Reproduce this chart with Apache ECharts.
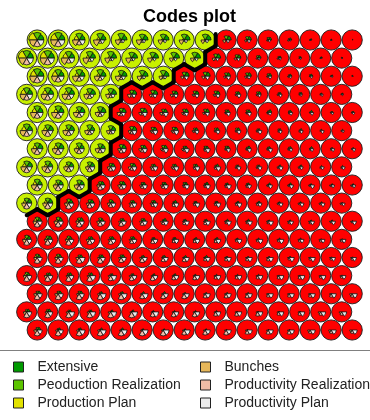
<!DOCTYPE html>
<html>
<head>
<meta charset="utf-8">
<script src="https://cdn.jsdelivr.net/npm/echarts@6/dist/echarts.min.js"></script>
<style>
html, body { margin: 0; padding: 0; background: #fff; }
#chart { width: 370px; height: 420px; }
</style>
</head>
<body>
<div id="chart"></div>
<script>
// SOM codebook vectors on a 16 x 17 hexagonal grid, scaled 0..1 per variable.
// Each array lists rows from the top row of the map down, 16 units per row.
const variableNames = ['Extensive', 'Peoduction Realization', 'Production Plan',
                       'Bunches', 'Productivity Realization', 'Productivity Plan'];
const variableColors = ['#009A00', '#5CC400', '#E2E200', '#E6B75A', '#F0BCA6', '#ECECEC'];

const extensive = [
  [0.8,0.8,0.7,0.7,0.7,0.7,0.7,0.7,0.7,0.6,0.5,0.4,0.3,0.2,0.1,0.1],
  [0.8,0.8,0.7,0.7,0.7,0.7,0.7,0.7,0.7,0.6,0.5,0.4,0.3,0.2,0.2,0.1],
  [0.8,0.7,0.7,0.7,0.7,0.7,0.7,0.6,0.6,0.5,0.5,0.4,0.3,0.3,0.2,0.1],
  [0.7,0.7,0.7,0.7,0.7,0.6,0.6,0.5,0.5,0.5,0.4,0.4,0.3,0.3,0.2,0.2],
  [0.7,0.7,0.7,0.7,0.6,0.6,0.5,0.5,0.5,0.4,0.4,0.4,0.3,0.3,0.2,0.2],
  [0.7,0.7,0.7,0.6,0.6,0.6,0.5,0.5,0.4,0.4,0.4,0.3,0.3,0.3,0.2,0.2],
  [0.7,0.7,0.6,0.6,0.6,0.5,0.5,0.4,0.4,0.4,0.4,0.3,0.3,0.3,0.2,0.2],
  [0.7,0.6,0.6,0.6,0.5,0.5,0.4,0.4,0.4,0.4,0.3,0.3,0.3,0.3,0.2,0.2],
  [0.6,0.6,0.6,0.5,0.5,0.4,0.4,0.4,0.4,0.3,0.3,0.3,0.3,0.2,0.2,0.2],
  [0.6,0.6,0.5,0.5,0.4,0.4,0.4,0.4,0.3,0.3,0.3,0.3,0.2,0.2,0.2,0.1],
  [0.5,0.5,0.5,0.4,0.4,0.4,0.4,0.3,0.3,0.3,0.3,0.2,0.2,0.2,0.2,0.1],
  [0.5,0.5,0.4,0.4,0.4,0.4,0.3,0.3,0.3,0.3,0.2,0.2,0.2,0.2,0.1,0.1],
  [0.4,0.4,0.4,0.4,0.4,0.3,0.3,0.3,0.3,0.2,0.2,0.2,0.2,0.1,0.1,0.1],
  [0.4,0.4,0.4,0.4,0.3,0.3,0.3,0.3,0.2,0.2,0.2,0.2,0.1,0.1,0.1,0.1],
  [0.4,0.4,0.4,0.3,0.3,0.3,0.3,0.2,0.2,0.2,0.2,0.1,0.1,0.1,0.1,0.0],
  [0.4,0.4,0.3,0.3,0.3,0.3,0.2,0.2,0.2,0.2,0.1,0.1,0.1,0.1,0.0,0.0],
  [0.4,0.3,0.3,0.3,0.3,0.2,0.2,0.2,0.2,0.1,0.1,0.1,0.1,0.0,0.0,0.0]
];

const productionRealization = [
  [0.9,0.9,0.8,0.8,0.8,0.7,0.7,0.7,0.7,0.5,0.4,0.3,0.2,0.1,0.1,0.0],
  [0.9,0.9,0.8,0.8,0.8,0.7,0.7,0.7,0.7,0.5,0.4,0.3,0.2,0.2,0.1,0.1],
  [0.9,0.8,0.8,0.8,0.7,0.7,0.7,0.5,0.5,0.4,0.4,0.3,0.2,0.2,0.1,0.1],
  [0.8,0.8,0.8,0.7,0.7,0.5,0.5,0.4,0.4,0.4,0.3,0.3,0.2,0.2,0.1,0.1],
  [0.8,0.8,0.7,0.7,0.5,0.5,0.4,0.4,0.4,0.3,0.3,0.2,0.2,0.1,0.1,0.1],
  [0.8,0.7,0.7,0.7,0.6,0.5,0.4,0.4,0.3,0.3,0.3,0.2,0.2,0.1,0.1,0.0],
  [0.7,0.7,0.7,0.6,0.5,0.4,0.4,0.3,0.3,0.3,0.2,0.2,0.2,0.1,0.1,0.0],
  [0.7,0.7,0.6,0.6,0.4,0.4,0.3,0.3,0.3,0.2,0.2,0.2,0.1,0.1,0.0,0.0],
  [0.7,0.6,0.6,0.4,0.4,0.3,0.3,0.3,0.2,0.2,0.2,0.1,0.1,0.1,0.0,0.0],
  [0.6,0.6,0.5,0.4,0.4,0.3,0.3,0.2,0.2,0.2,0.1,0.1,0.1,0.0,0.0,0.0],
  [0.5,0.5,0.4,0.4,0.3,0.3,0.2,0.2,0.2,0.1,0.1,0.1,0.0,0.0,0.0,0.0],
  [0.5,0.4,0.4,0.3,0.3,0.3,0.2,0.2,0.1,0.1,0.1,0.0,0.0,0.0,0.0,0.0],
  [0.4,0.4,0.3,0.3,0.3,0.2,0.2,0.1,0.1,0.1,0.0,0.0,0.0,0.0,0.0,0.0],
  [0.4,0.3,0.3,0.3,0.2,0.2,0.1,0.1,0.1,0.0,0.0,0.0,0.0,0.0,0.0,0.0],
  [0.3,0.3,0.3,0.2,0.2,0.1,0.1,0.1,0.0,0.0,0.0,0.0,0.0,0.0,0.0,0.0],
  [0.3,0.3,0.2,0.2,0.1,0.1,0.1,0.0,0.0,0.0,0.0,0.0,0.0,0.0,0.0,0.0],
  [0.3,0.2,0.2,0.1,0.1,0.1,0.0,0.0,0.0,0.0,0.0,0.0,0.0,0.0,0.0,0.0]
];

const productionPlan = [
  [1.0,0.9,0.6,0.4,0.3,0.2,0.2,0.2,0.1,0.1,0.1,0.1,0.0,0.0,0.0,0.0],
  [1.0,0.9,0.7,0.4,0.3,0.2,0.2,0.1,0.1,0.1,0.1,0.0,0.0,0.0,0.0,0.0],
  [0.8,0.7,0.5,0.4,0.3,0.2,0.2,0.1,0.1,0.1,0.1,0.0,0.0,0.0,0.0,0.0],
  [0.7,0.6,0.5,0.4,0.3,0.2,0.1,0.1,0.1,0.1,0.0,0.0,0.0,0.0,0.0,0.0],
  [0.6,0.5,0.4,0.3,0.2,0.2,0.1,0.1,0.1,0.0,0.0,0.0,0.0,0.0,0.0,0.0],
  [0.6,0.5,0.4,0.3,0.2,0.2,0.1,0.1,0.1,0.0,0.0,0.0,0.0,0.0,0.0,0.0],
  [0.5,0.5,0.4,0.3,0.2,0.1,0.1,0.1,0.0,0.0,0.0,0.0,0.0,0.0,0.0,0.0],
  [0.5,0.4,0.4,0.3,0.2,0.1,0.1,0.1,0.0,0.0,0.0,0.0,0.0,0.0,0.0,0.0],
  [0.5,0.4,0.3,0.3,0.2,0.1,0.1,0.0,0.0,0.0,0.0,0.0,0.0,0.0,0.0,0.0],
  [0.4,0.4,0.3,0.2,0.2,0.1,0.1,0.0,0.0,0.0,0.0,0.0,0.0,0.0,0.0,0.0],
  [0.4,0.3,0.3,0.2,0.1,0.1,0.0,0.0,0.0,0.0,0.0,0.0,0.0,0.0,0.0,0.0],
  [0.3,0.3,0.3,0.2,0.1,0.1,0.0,0.0,0.0,0.0,0.0,0.0,0.0,0.0,0.0,0.0],
  [0.3,0.3,0.2,0.2,0.1,0.0,0.0,0.0,0.0,0.0,0.0,0.0,0.0,0.0,0.0,0.0],
  [0.3,0.2,0.2,0.1,0.1,0.0,0.0,0.0,0.0,0.0,0.0,0.0,0.0,0.0,0.0,0.0],
  [0.2,0.2,0.2,0.1,0.0,0.0,0.0,0.0,0.0,0.0,0.0,0.0,0.0,0.0,0.0,0.0],
  [0.2,0.2,0.1,0.1,0.0,0.0,0.0,0.0,0.0,0.0,0.0,0.0,0.0,0.0,0.0,0.0],
  [0.2,0.1,0.1,0.1,0.0,0.0,0.0,0.0,0.0,0.0,0.0,0.0,0.0,0.0,0.0,0.0]
];

const bunches = [
  [0.9,0.9,0.8,0.8,0.7,0.7,0.6,0.6,0.5,0.4,0.3,0.2,0.2,0.1,0.1,0.0],
  [0.9,0.9,0.9,0.8,0.7,0.7,0.6,0.5,0.5,0.4,0.3,0.2,0.2,0.1,0.1,0.0],
  [0.9,0.8,0.8,0.7,0.7,0.6,0.5,0.4,0.4,0.3,0.3,0.2,0.2,0.1,0.1,0.0],
  [0.8,0.8,0.8,0.7,0.6,0.5,0.4,0.4,0.3,0.3,0.2,0.2,0.2,0.1,0.1,0.1],
  [0.8,0.8,0.7,0.6,0.5,0.4,0.4,0.3,0.3,0.2,0.2,0.2,0.1,0.1,0.1,0.1],
  [0.8,0.7,0.7,0.6,0.5,0.4,0.3,0.3,0.3,0.2,0.2,0.2,0.1,0.1,0.1,0.1],
  [0.7,0.7,0.6,0.6,0.4,0.4,0.3,0.3,0.2,0.2,0.2,0.2,0.2,0.1,0.1,0.1],
  [0.7,0.7,0.6,0.5,0.4,0.4,0.3,0.3,0.2,0.2,0.2,0.2,0.2,0.2,0.1,0.1],
  [0.7,0.6,0.6,0.4,0.4,0.3,0.3,0.2,0.2,0.2,0.2,0.2,0.2,0.2,0.2,0.2],
  [0.6,0.6,0.5,0.4,0.4,0.3,0.3,0.2,0.2,0.2,0.2,0.2,0.2,0.2,0.2,0.2],
  [0.5,0.5,0.4,0.4,0.3,0.3,0.3,0.2,0.2,0.2,0.2,0.2,0.2,0.2,0.2,0.2],
  [0.5,0.4,0.4,0.4,0.3,0.3,0.2,0.2,0.2,0.2,0.2,0.2,0.2,0.2,0.2,0.2],
  [0.4,0.4,0.4,0.3,0.3,0.3,0.2,0.2,0.2,0.2,0.2,0.2,0.2,0.2,0.2,0.2],
  [0.4,0.4,0.3,0.3,0.3,0.3,0.2,0.2,0.2,0.2,0.2,0.2,0.2,0.2,0.2,0.2],
  [0.4,0.4,0.3,0.3,0.3,0.2,0.2,0.2,0.2,0.2,0.2,0.2,0.2,0.2,0.2,0.3],
  [0.4,0.3,0.3,0.3,0.3,0.2,0.2,0.2,0.2,0.2,0.2,0.2,0.2,0.2,0.3,0.3],
  [0.4,0.3,0.3,0.3,0.2,0.2,0.2,0.2,0.2,0.2,0.2,0.2,0.2,0.3,0.3,0.3]
];

const productivityRealization = [
  [0.8,0.8,0.6,0.4,0.3,0.3,0.2,0.2,0.2,0.1,0.1,0.1,0.0,0.0,0.0,0.0],
  [0.8,0.8,0.6,0.4,0.3,0.3,0.2,0.2,0.2,0.2,0.1,0.1,0.1,0.0,0.0,0.0],
  [0.8,0.7,0.6,0.5,0.4,0.3,0.3,0.2,0.2,0.2,0.2,0.1,0.1,0.1,0.0,0.0],
  [0.7,0.7,0.6,0.5,0.4,0.3,0.3,0.2,0.2,0.2,0.2,0.2,0.1,0.1,0.1,0.0],
  [0.7,0.7,0.6,0.5,0.4,0.3,0.3,0.3,0.2,0.2,0.2,0.2,0.2,0.1,0.1,0.1],
  [0.7,0.7,0.6,0.5,0.4,0.4,0.3,0.3,0.2,0.2,0.2,0.2,0.2,0.2,0.1,0.1],
  [0.7,0.7,0.6,0.5,0.5,0.4,0.3,0.3,0.3,0.2,0.2,0.2,0.2,0.2,0.2,0.1],
  [0.7,0.7,0.6,0.6,0.5,0.4,0.4,0.3,0.3,0.3,0.2,0.2,0.2,0.2,0.2,0.2],
  [0.7,0.7,0.6,0.6,0.5,0.4,0.4,0.3,0.3,0.3,0.3,0.2,0.2,0.2,0.2,0.2],
  [0.7,0.7,0.7,0.6,0.5,0.5,0.4,0.4,0.3,0.3,0.3,0.3,0.2,0.2,0.2,0.2],
  [0.7,0.7,0.7,0.6,0.6,0.5,0.4,0.4,0.4,0.3,0.3,0.3,0.3,0.3,0.2,0.2],
  [0.7,0.7,0.7,0.6,0.6,0.5,0.5,0.4,0.4,0.4,0.3,0.3,0.3,0.3,0.3,0.3],
  [0.7,0.7,0.7,0.7,0.6,0.6,0.5,0.5,0.4,0.4,0.4,0.4,0.3,0.3,0.3,0.3],
  [0.7,0.7,0.7,0.7,0.6,0.6,0.6,0.5,0.5,0.4,0.4,0.4,0.4,0.4,0.3,0.3],
  [0.7,0.7,0.7,0.7,0.7,0.6,0.6,0.6,0.5,0.5,0.5,0.4,0.4,0.4,0.4,0.4],
  [0.7,0.7,0.7,0.7,0.7,0.7,0.6,0.6,0.6,0.5,0.5,0.5,0.4,0.4,0.4,0.4],
  [0.7,0.7,0.7,0.7,0.7,0.7,0.7,0.6,0.6,0.6,0.5,0.5,0.5,0.4,0.4,0.4]
];

const productivityPlan = [
  [0.8,0.8,0.7,0.5,0.4,0.4,0.4,0.4,0.4,0.4,0.4,0.3,0.2,0.1,0.1,0.0],
  [0.8,0.8,0.7,0.5,0.4,0.4,0.4,0.4,0.4,0.4,0.4,0.3,0.3,0.2,0.1,0.1],
  [0.8,0.7,0.6,0.5,0.5,0.4,0.4,0.5,0.5,0.5,0.4,0.4,0.3,0.3,0.2,0.1],
  [0.7,0.7,0.6,0.5,0.5,0.5,0.5,0.5,0.5,0.5,0.5,0.4,0.4,0.3,0.3,0.2],
  [0.7,0.6,0.6,0.5,0.5,0.6,0.6,0.5,0.5,0.5,0.5,0.4,0.4,0.4,0.3,0.3],
  [0.7,0.6,0.6,0.5,0.5,0.6,0.6,0.6,0.5,0.5,0.5,0.5,0.4,0.4,0.4,0.3],
  [0.6,0.6,0.6,0.6,0.6,0.6,0.6,0.6,0.6,0.5,0.5,0.5,0.4,0.4,0.4,0.4],
  [0.6,0.6,0.6,0.6,0.6,0.6,0.6,0.6,0.6,0.6,0.5,0.5,0.5,0.4,0.4,0.4],
  [0.6,0.6,0.6,0.6,0.6,0.6,0.6,0.6,0.6,0.6,0.5,0.5,0.5,0.5,0.4,0.4],
  [0.6,0.6,0.6,0.6,0.6,0.6,0.6,0.6,0.6,0.6,0.6,0.5,0.5,0.5,0.5,0.4],
  [0.6,0.6,0.6,0.6,0.6,0.6,0.6,0.6,0.6,0.6,0.6,0.6,0.5,0.5,0.5,0.5],
  [0.6,0.6,0.6,0.6,0.6,0.6,0.6,0.6,0.6,0.6,0.6,0.6,0.6,0.5,0.5,0.5],
  [0.6,0.6,0.7,0.6,0.6,0.6,0.6,0.6,0.6,0.6,0.6,0.6,0.6,0.6,0.5,0.5],
  [0.6,0.6,0.6,0.7,0.7,0.6,0.6,0.6,0.6,0.6,0.6,0.6,0.6,0.6,0.6,0.5],
  [0.6,0.6,0.6,0.7,0.7,0.7,0.6,0.6,0.6,0.6,0.6,0.6,0.6,0.6,0.6,0.6],
  [0.6,0.6,0.7,0.7,0.7,0.7,0.7,0.6,0.6,0.6,0.6,0.6,0.6,0.6,0.6,0.6],
  [0.6,0.6,0.7,0.7,0.7,0.7,0.7,0.7,0.6,0.6,0.6,0.6,0.6,0.6,0.6,0.6]
];

// Units of cluster 1 counted from the left end of each row (top row first); the rest are cluster 2.
const cluster1UnitsPerRow = [9, 9, 7, 5, 4, 5, 4, 4, 3, 2, 0, 0, 0, 0, 0, 0, 0];
const clusterColors = ['#C8F000', '#FF0000'];

const variables = [extensive, productionRealization, productionPlan,
                   bunches, productivityRealization, productivityPlan];

const NROW = extensive.length;
const NCOL = extensive[0].length;

// Hexagonal layout: grid x in unit steps, even rows from the top shifted half a unit right.
const units = [];
for (let r = 0; r < NROW; r++) {
  for (let k = 0; k < NCOL; k++) {
    const x = k + 1 + (r % 2 === 0 ? 0.5 : 0);
    const y = NROW - 1 - r;
    const cl = k < cluster1UnitsPerRow[r] ? 0 : 1;
    units.push({ r, k, x, y, cl });
  }
}

// Pairs of neighbouring units that belong to different clusters.
const borderPairs = [];
for (let i = 0; i < units.length; i++) {
  for (let j = i + 1; j < units.length; j++) {
    const a = units[i], b = units[j];
    if (a.cl === b.cl) continue;
    const dy = Math.abs(a.y - b.y), dx = Math.abs(a.x - b.x);
    if ((dy === 0 && dx === 1) || (dy === 1 && dx === 0.5)) {
      borderPairs.push([a.x, a.y, b.x, b.y]);
    }
  }
}

function unitPx(api) {
  const p0 = api.coord([0, 0]);
  const p1 = api.coord([1, 0]);
  return p1[0] - p0[0];
}

const FONT = '"Liberation Sans", Arial, sans-serif';
const chart = echarts.init(document.getElementById('chart'), null, { renderer: 'canvas' });

const series = [];

// Background circles coloured by cluster
series.push({
  type: 'custom',
  name: 'units',
  coordinateSystem: 'cartesian2d',
  silent: true,
  data: units.map(u => [u.x, u.y, u.cl]),
  renderItem: (params, api) => {
    const c = api.coord([api.value(0), api.value(1)]);
    const s = unitPx(api);
    return {
      type: 'circle',
      shape: { cx: c[0], cy: c[1], r: 0.5 * s - 0.4 },
      style: { fill: clusterColors[api.value(2)], stroke: '#1c1c1c', lineWidth: 0.9 }
    };
  },
  z: 1
});

// One segment (wedge) per variable, radius proportional to the scaled code value
variables.forEach((vals, vi) => {
  const data = [];
  units.forEach(u => data.push([u.x, u.y, vals[u.r][u.k]]));
  series.push({
    type: 'custom',
    name: variableNames[vi],
    coordinateSystem: 'cartesian2d',
    itemStyle: { color: variableColors[vi] },
    data,
    renderItem: (params, api) => {
      const v = api.value(2);
      if (!(v > 0)) return null;
      const c = api.coord([api.value(0), api.value(1)]);
      const s = unitPx(api);
      const step = Math.PI / 3;
      return {
        type: 'sector',
        shape: {
          cx: c[0], cy: c[1], r0: 0, r: 0.4 * s * v,
          startAngle: -(vi + 1) * step, endAngle: -vi * step, clockwise: true
        },
        style: { fill: variableColors[vi], stroke: '#111', lineWidth: 0.8 }
      };
    },
    z: 2
  });
});

// Cluster boundaries along the shared hexagon edges
series.push({
  type: 'custom',
  name: 'boundaries',
  coordinateSystem: 'cartesian2d',
  silent: true,
  data: borderPairs,
  renderItem: (params, api) => {
    const a = api.coord([api.value(0), api.value(1)]);
    const b = api.coord([api.value(2), api.value(3)]);
    const mx = (a[0] + b[0]) / 2, my = (a[1] + b[1]) / 2;
    const dx = b[0] - a[0], dy = b[1] - a[1];
    const d = Math.sqrt(dx * dx + dy * dy);
    const half = d / (2 * Math.sqrt(3));
    const ux = -dy / d, uy = dx / d;
    return {
      type: 'line',
      shape: { x1: mx - ux * half, y1: my - uy * half, x2: mx + ux * half, y2: my + uy * half },
      style: { stroke: '#000', lineWidth: 4, lineCap: 'round' }
    };
  },
  z: 3
});

const legendCommon = {
  orient: 'vertical',
  icon: 'rect',
  itemWidth: 10,
  itemHeight: 10,
  itemGap: 4,
  selectedMode: false,
  itemStyle: { borderColor: '#222', borderWidth: 1 },
  textStyle: { fontSize: 14, color: '#222', fontFamily: FONT, lineHeight: 14, padding: [0, 0, 0, 9] }
};

chart.setOption({
  animation: false,
  title: {
    text: 'Codes plot',
    left: 138,
    top: 3,
    textStyle: { fontSize: 18, fontWeight: 'bold', color: '#000', fontFamily: FONT }
  },
  legend: [
    Object.assign({}, legendCommon, { left: 8, top: 355, data: variableNames.slice(0, 3) }),
    Object.assign({}, legendCommon, { left: 195, top: 355, data: variableNames.slice(3) })
  ],
  grid: { left: 16.2, right: 7.3, top: 26.4, bottom: 76.4 },
  xAxis: { type: 'value', min: 0.5, max: 17, show: false },
  yAxis: { type: 'value', min: -0.75, max: 16.75, show: false },
  graphic: [{
    type: 'line',
    shape: { x1: 0, y1: 350.5, x2: 370, y2: 350.5 },
    style: { stroke: '#808080', lineWidth: 1 },
    silent: true
  }],
  series
});
</script>
</body>
</html>
